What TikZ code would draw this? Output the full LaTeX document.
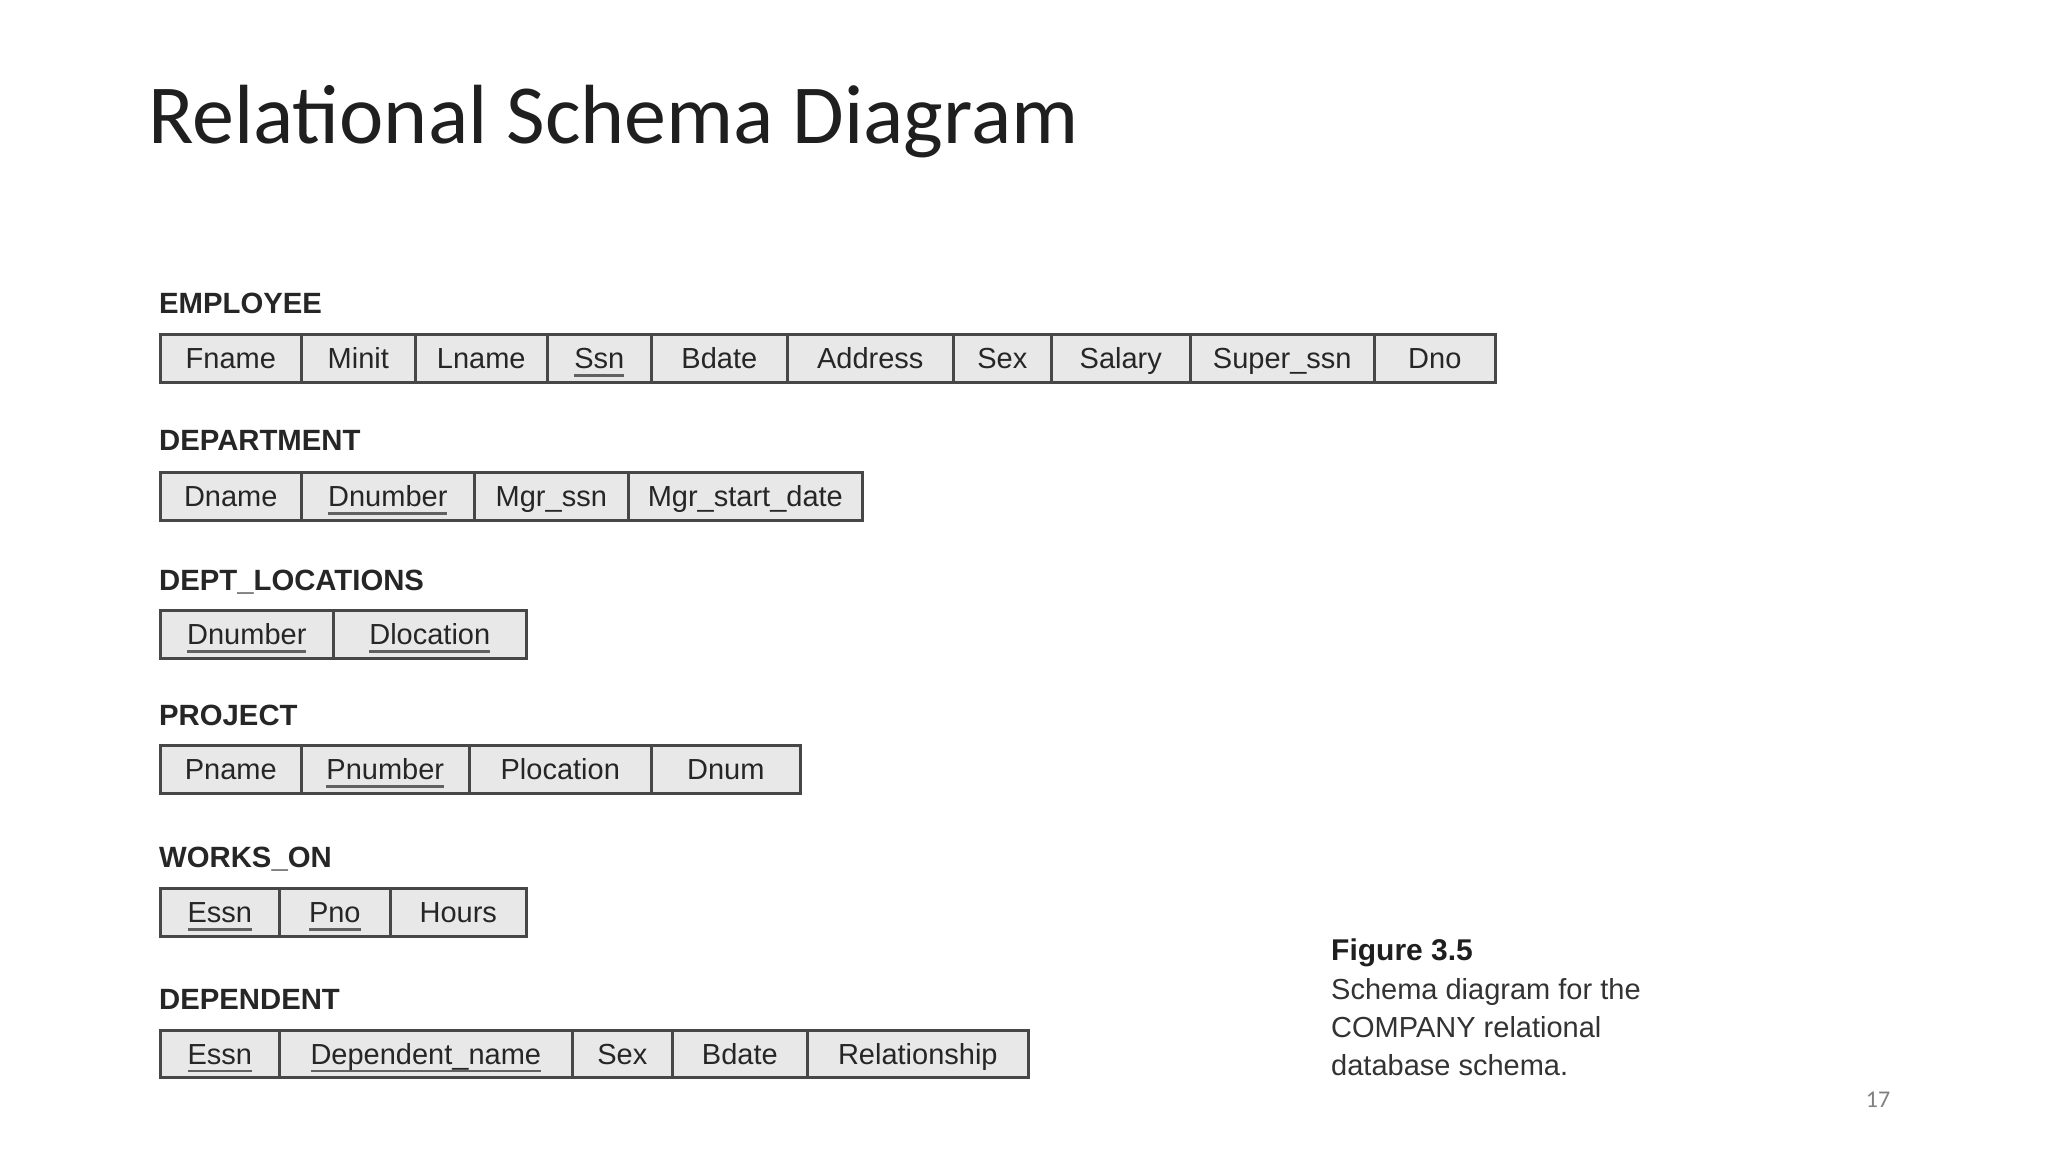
\documentclass[tikz,border=0pt]{standalone}
\usepackage{fontspec}
\setmainfont{Liberation Sans}
\newfontfamily\titlefont{Carlito}
\newcommand\pkey[1]{\setbox0\hbox{#1}\rlap{\color{black!62}\rule[-8pt]{\wd0}{2.6pt}}\box0}
\tikzset{
  cell/.style={draw=black!72, line width=2.6pt, fill=black!9, anchor=north west,
    inner sep=0pt, text height=21pt, text depth=0pt,
    font=\fontsize{29}{33}\selectfont, text=black!85},
  relname/.style={anchor=base west, inner sep=0pt, text=black!85,
    font=\bfseries\fontsize{29.3}{32}\selectfont},
  caption/.style={anchor=base west, inner sep=0pt, text=black!80,
    font=\fontsize{29}{33}\selectfont},
}
\begin{document}
\begin{tikzpicture}[x=1pt,y=-1pt]
\useasboundingbox[fill=white] (0,0) rectangle (2048,1152);
\node[anchor=base west, inner sep=0pt, text=black!88, font=\titlefont\fontsize{84}{90}\selectfont] (title) at (148,143) {Relational Schema Diagram};

% EMPLOYEE
\node[relname] (lemp) at (159,313) {EMPLOYEE};
\foreach \xa/\xb/\t/\n in {159/300/Fname/e1, 300/414/Minit/e2, 414/546/Lname/e3,
  546/650/{\pkey{Ssn}}/e4, 650/786/Bdate/e5, 786/952/Address/e6, 952/1050/Sex/e7,
  1050/1189/Salary/e8, 1189/1373/{Super\_ssn}/e9, 1373/1494/Dno/e10}
  \node[cell, minimum width={\xb-\xa}, minimum height=48] (\n) at (\xa,333) {\t};

% DEPARTMENT
\node[relname] (ldep) at (159,450) {DEPARTMENT};
\foreach \xa/\xb/\t/\n in {159/300/Dname/d1, 300/473/{\pkey{Dnumber}}/d2,
  473/627/{Mgr\_ssn}/d3, 627/861/{Mgr\_start\_date}/d4}
  \node[cell, minimum width={\xb-\xa}, minimum height=48] (\n) at (\xa,471) {\t};

% DEPT_LOCATIONS
\node[relname] (lloc) at (159,590) {DEPT\_LOCATIONS};
\foreach \xa/\xb/\t/\n in {159/332/{\pkey{Dnumber}}/l1, 332/525/{\pkey{Dlocation}}/l2}
  \node[cell, minimum width={\xb-\xa}, minimum height=48] (\n) at (\xa,609) {\t};

% PROJECT
\node[relname] (lproj) at (159,725) {PROJECT};
\foreach \xa/\xb/\t/\n in {159/300/Pname/p1, 300/468/{\pkey{Pnumber}}/p2,
  468/650/Plocation/p3, 650/799/Dnum/p4}
  \node[cell, minimum width={\xb-\xa}, minimum height=48] (\n) at (\xa,744) {\t};

% WORKS_ON
\node[relname] (lwork) at (159,867) {WORKS\_ON};
\foreach \xa/\xb/\t/\n in {159/278/{\pkey{Essn}}/w1, 278/389/{\pkey{Pno}}/w2, 389/525/Hours/w3}
  \node[cell, minimum width={\xb-\xa}, minimum height=48] (\n) at (\xa,887) {\t};

% DEPENDENT
\node[relname] (ldept) at (159,1009) {DEPENDENT};
\foreach \xa/\xb/\t/\n in {159/278/{\pkey{Essn}}/t1, 278/571/{\pkey{Dependent\_name}}/t2,
  571/671/Sex/t3, 671/806/Bdate/t4, 806/1027/Relationship/t5}
  \node[cell, minimum width={\xb-\xa}, minimum height=47] (\n) at (\xa,1029) {\t};

% caption
\node[caption, font=\bfseries\fontsize{30}{33}\selectfont, text=black!88] (fig) at (1331,960) {Figure 3.5};
\node[caption] (cap1) at (1331,999) {Schema diagram for the};
\node[caption] (cap2) at (1331,1037) {COMPANY relational};
\node[caption] (cap3) at (1331,1075) {database schema.};

\node[anchor=base, inner sep=0pt, text=black!50, font=\titlefont\fontsize{24}{26}\selectfont] (pnum) at (1878,1107) {17};
\end{tikzpicture}
\end{document}
